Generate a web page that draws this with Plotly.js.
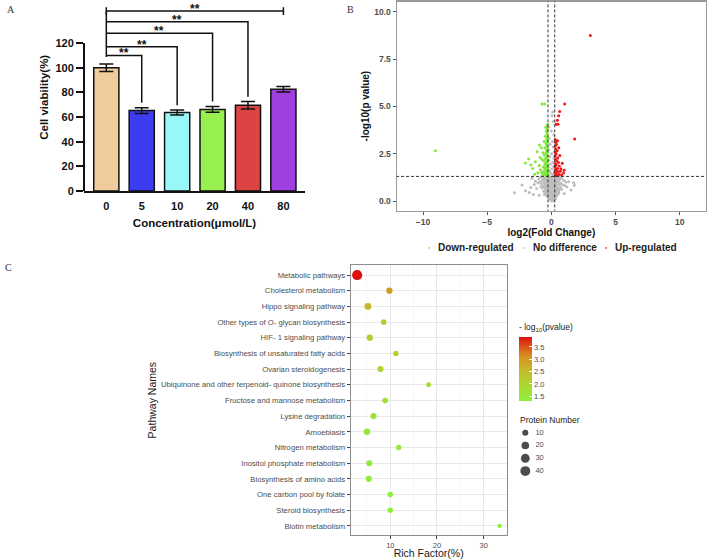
<!DOCTYPE html>
<html>
<head>
<meta charset="utf-8">
<script src="https://cdn.plot.ly/plotly-3.0.1.min.js"></script>
<style>
  html, body { margin: 0; padding: 0; background: #fff; }
  #fig { width: 708px; height: 559px; }
</style>
</head>
<body>
<div id="fig"></div>
<script>
// ---------- Panel A: cell viability by concentration ----------
const concLabels = ['0', '5', '10', '20', '40', '80'];
const viability = [100, 65.2, 63.6, 66.2, 69.5, 82.5];
const viabilitySD = [3.0, 2.3, 2.0, 2.3, 3.0, 2.3];
const barColors = ['#f0cc9c', '#3c3cf0', '#98f8f8', '#98f050', '#dc4444', '#a040e0'];

// significance comparisons against the control (index 0)
const sigTargets = [1, 2, 3, 4, 5];
const sigLevels = [110, 117, 128, 137.3, 146];
const sigStyle = ['drop', 'drop', 'drop', 'drop', 'cap'];
const sigMarks = ['**', '**', '**', '**', '**'];

// ---------- Panel B: volcano plot ----------
const fcCut = Math.log2(1.2);
const pCut = -Math.log10(0.05);

const noDiffPts = [
  [0.02,0.01],[0.08,0.03],[-0.05,0.05],[0.12,0.02],[0.15,0.08],[-0.10,0.10],[0.04,0.12],[0.20,0.06],[-0.15,0.15],[0.10,0.16],
  [0.25,0.14],[-0.02,0.18],[0.30,0.11],[-0.20,0.19],[0.06,0.20],
  [-0.25,0.22],[0.18,0.24],[0.35,0.21],[-0.08,0.26],[0.01,0.28],[-0.32,0.30],[0.27,0.31],[0.12,0.33],[-0.18,0.35],[0.42,0.29],
  [-0.40,0.37],[0.05,0.38],[0.22,0.40],[-0.12,0.41],[0.33,0.43],[-0.28,0.44],[0.50,0.36],[-0.48,0.46],[0.09,0.47],[0.16,0.49],
  [-0.04,0.50],[0.38,0.48],[-0.36,0.27],[0.28,0.46],[-0.22,0.48],[0.58,0.42],[-0.55,0.34],
  [-0.60,0.52],[0.45,0.53],[-0.15,0.55],[0.02,0.56],[0.24,0.57],[-0.33,0.58],[0.62,0.60],[-0.07,0.61],[0.13,0.62],[-0.45,0.63],
  [0.35,0.64],[-0.25,0.66],[0.52,0.67],[0.07,0.68],[-0.70,0.69],[-0.10,0.70],[0.19,0.71],[0.70,0.72],[-0.38,0.73],[0.29,0.74],
  [-0.52,0.76],[0.01,0.77],[0.42,0.78],[-0.19,0.79],[0.80,0.62],[-0.82,0.75],[0.56,0.55],[-0.03,0.72],[0.11,0.53],[-0.29,0.51],
  [-0.62,0.81],[0.15,0.82],[-0.04,0.83],[0.36,0.84],[-0.30,0.85],[0.64,0.86],[0.05,0.87],[-0.46,0.88],[0.23,0.89],[-0.14,0.90],
  [0.48,0.91],[-0.78,0.92],[0.10,0.93],[-0.22,0.94],[0.75,0.95],[-0.55,0.96],[0.32,0.97],[-0.08,0.98],[0.58,0.99],[-0.38,1.00],
  [0.02,1.01],[-0.90,1.02],[0.20,1.03],[-0.66,1.04],[0.88,0.85],[0.42,1.02],[-0.18,0.86],[0.09,0.99],
  [-0.27,1.06],[0.38,1.07],[-0.05,1.08],[0.55,1.09],[-0.48,1.10],[0.14,1.11],[-0.72,1.12],[0.27,1.13],[-0.16,1.14],[0.68,1.15],
  [-0.35,1.16],[0.04,1.17],[-0.98,1.18],[0.45,1.19],[-0.58,1.20],[0.20,1.21],[-0.10,1.22],[0.80,1.23],[-0.42,1.24],[0.10,1.25],
  [-0.24,1.26],[0.60,1.27],[-0.80,1.28],[0.33,1.29],[-0.02,1.24],[0.95,1.10],
  [-1.05,0.95],[1.05,0.82],[-1.15,0.66],[1.12,1.00],[-1.24,1.05],[1.21,0.74],[-1.33,0.88],[1.35,1.02],[-1.50,1.20],[1.53,0.58],
  [-1.60,0.72],[1.74,0.97],[1.79,0.83],[-1.72,0.45],[-2.02,0.55],[-2.28,0.85],[-2.88,0.44],[-1.40,0.35],[1.00,0.40],[-0.95,0.30],
  [-0.20,1.35],[0.10,1.40],[-0.05,1.48],[0.22,1.55],[-0.15,1.60],[0.05,1.70],[-0.24,1.78],[0.18,1.85],[-0.08,1.95],[0.12,2.05],
  [-0.20,2.15],[0.20,2.25],[-0.12,2.35],[0.02,2.50],[0.24,2.60],[-0.22,2.70],[0.15,2.85],[-0.10,3.00],[0.08,3.15],[-0.18,3.30],
  [0.20,3.50],[0.00,3.70],[-0.22,3.90],[0.15,4.20],[0.05,4.50],[0.10,4.70],
  [-0.34,0.62],[0.44,0.70],[-0.50,0.90],[0.26,0.93],[-0.12,1.03],[0.52,1.22],[-0.64,1.15],[0.36,1.16],[-0.44,0.55],[0.16,0.74]
];

const downPts = [
  [-0.30,1.32],[-0.42,1.35],[-0.55,1.38],[-0.35,1.42],[-0.68,1.40],[-0.28,1.47],[-0.48,1.50],[-0.60,1.55],[-0.32,1.58],[-0.75,1.52],
  [-0.40,1.63],[-0.52,1.68],[-0.29,1.72],[-0.85,1.65],[-0.45,1.78],[-0.36,1.84],[-0.62,1.80],[-0.30,1.90],[-0.50,1.95],[-0.95,1.88],
  [-0.41,2.02],[-0.33,2.08],[-0.58,2.12],[-0.28,2.18],[-0.46,2.24],[-0.72,2.20],[-0.37,2.30],[-0.30,2.38],[-0.55,2.42],[-0.44,2.50],
  [-0.32,2.58],[-0.65,2.55],[-0.39,2.66],[-0.29,2.74],[-0.50,2.80],[-0.78,2.82],[-0.35,2.90],[-0.93,2.96],[-0.42,3.02],[-0.30,3.10],
  [-0.56,3.15],[-0.36,3.25],[-0.28,3.35],[-0.47,3.42],[-0.33,3.55],[-0.39,3.68],[-0.30,3.78],[-0.44,3.88],[-0.35,3.96],[-0.28,4.05],
  [-0.52,5.12],[-0.72,5.12],
  [-1.11,2.61],[-1.77,2.22],[-2.02,2.01],[-1.25,2.08],[-1.45,1.72],[-1.05,1.50],[-1.30,1.42],[-9.03,2.65],[-0.88,2.30],[-1.60,1.90]
];

const upPts = [
  [0.30,1.33],[0.45,1.36],[0.60,1.40],[0.35,1.45],[0.80,1.38],[0.28,1.50],[0.52,1.55],[0.40,1.60],[0.70,1.58],[0.32,1.66],
  [0.95,1.48],[0.48,1.72],[0.29,1.80],[0.62,1.85],[0.38,1.90],[0.30,1.98],[0.55,2.04],[0.42,2.12],[0.85,2.00],[0.33,2.20],
  [0.50,2.28],[0.29,2.36],[0.66,2.40],[0.37,2.48],[0.31,2.56],[0.45,2.65],[0.34,2.75],[0.58,2.82],[0.29,2.90],[0.40,3.00],
  [0.33,3.10],[0.48,3.18],[0.30,3.25],[0.37,4.06],[0.52,4.06],[0.47,4.27],[0.57,4.51],[0.65,4.73],[1.04,5.12],[1.82,3.28],
  [3.04,8.75],[0.75,1.70],[1.00,1.62]
];

// ---------- Panel C: KEGG pathway enrichment ----------
const pathways = [
  'Metabolic pathways',
  'Cholesterol metabolism',
  'Hippo signaling pathway',
  'Other types of O- glycan biosynthesis',
  'HIF- 1 signaling pathway',
  'Biosynthesis of unsaturated fatty acids',
  'Ovarian steroidogenesis',
  'Ubiquinone and other terpenoid- quinone biosynthesis',
  'Fructose and mannose metabolism',
  'Lysine degradation',
  'Amoebiasis',
  'Nitrogen metabolism',
  'Inositol phosphate metabolism',
  'Biosynthesis of amino acids',
  'One carbon pool by folate',
  'Steroid biosynthesis',
  'Biotin metabolism'
];
const richFactor = [2.9, 9.8, 5.2, 8.6, 5.6, 11.2, 7.9, 18.2, 8.9, 6.4, 5.0, 11.8, 5.5, 5.4, 10.0, 10.0, 33.4];
const negLogP = [3.91, 3.0, 2.6, 2.25, 2.18, 2.05, 2.0, 1.9, 1.75, 1.65, 1.55, 1.5, 1.45, 1.42, 1.38, 1.35, 1.31];
const proteinNum = [43, 11, 15, 8, 11, 7, 10, 5, 8, 10, 12, 7, 10, 11, 7, 7, 3];
const sizeKeys = [10, 20, 30, 40];

// point diameter (px) from protein count, area-style scaling
const dotSize = n => 2.2 + 1.22 * Math.sqrt(n);

const FONT = 'Liberation Sans, Arial, Helvetica, sans-serif';
const SERIF = 'Liberation Serif, Times New Roman, serif';

// ---------- traces ----------
const traces = [];

traces.push({
  type: 'bar', x: concLabels.map((_, i) => i), y: viability,
  width: 0.71, xaxis: 'x', yaxis: 'y',
  marker: { color: barColors, line: { color: '#111', width: 1.5 } },
  error_y: { type: 'data', array: viabilitySD, visible: true, color: '#111', thickness: 1.5, width: 7 },
  showlegend: false, hoverinfo: 'skip'
});

// bracket lines for the significance marks
const bx = [], by = [];
const top0 = viability[0] + viabilitySD[0] + 5.7;
bx.push(0, 0, null); by.push(top0, Math.max(...sigLevels), null);
sigTargets.forEach((t, k) => {
  const lvl = sigLevels[k];
  if (sigStyle[k] === 'drop') {
    const end = viability[t] + viabilitySD[t] + 4;
    bx.push(0, t, t, null); by.push(lvl, lvl, end, null);
  } else {
    bx.push(0, t, null); by.push(lvl, lvl, null);
    bx.push(0, 0, null); by.push(lvl - 3.3, lvl + 3, null);
    bx.push(t, t, null); by.push(lvl - 3.3, lvl + 3, null);
  }
});
traces.push({
  type: 'scatter', mode: 'lines', x: bx, y: by, xaxis: 'x', yaxis: 'y',
  line: { color: '#111', width: 1.5 }, connectgaps: false,
  showlegend: false, hoverinfo: 'skip'
});

// volcano groups
const volcano = [
  { pts: noDiffPts, color: '#bdbdbd' },
  { pts: downPts, color: '#7fe83a' },
  { pts: upPts, color: '#f01818' }
];
volcano.forEach(g => {
  traces.push({
    type: 'scatter', mode: 'markers', xaxis: 'x2', yaxis: 'y2',
    x: g.pts.map(p => p[0]), y: g.pts.map(p => p[1]),
    marker: { color: g.color, size: 3, line: { width: 0 } },
    showlegend: false, hoverinfo: 'skip'
  });
});

// enrichment bubbles
traces.push({
  type: 'scatter', mode: 'markers', xaxis: 'x3', yaxis: 'y3',
  x: richFactor, y: pathways,
  marker: {
    size: proteinNum.map(dotSize), sizemode: 'diameter',
    color: negLogP,
    colorscale: [[0, '#8ef03c'], [0.25, '#acd632'], [0.5, '#c6b82a'], [0.68, '#d49622'], [0.84, '#da5a18'], [1, '#e00d0d']],
    line: { width: 0 }, opacity: 1,
    showscale: true,
    colorbar: {
      x: 519 / 708, xanchor: 'left', xpad: 0,
      y: 1 - 361 / 559, yanchor: 'middle', ypad: 0,
      len: 80, lenmode: 'pixels', thickness: 13, thicknessmode: 'pixels',
      outlinewidth: 0,
      tickvals: [1.5, 2, 2.5, 3, 3.5], tickformat: '.1f',
      ticks: 'inside', ticklen: 3, tickcolor: '#ffffff', tickwidth: 1,
      tickfont: { family: FONT, size: 7.5, color: '#4d4d4d' },
      title: { text: '- log<sub>10</sub>(pvalue)', side: 'top', font: { family: FONT, size: 8.5, color: '#222' } }
    }
  },
  showlegend: false, hoverinfo: 'skip'
});

// size key for protein number
traces.push({
  type: 'scatter', mode: 'markers', xaxis: 'x4', yaxis: 'y4',
  x: sizeKeys.map(() => 0.5), y: sizeKeys.map((_, i) => i),
  marker: { color: '#000', size: sizeKeys.map(dotSize), sizemode: 'diameter', line: { width: 0 } },
  cliponaxis: false, showlegend: false, hoverinfo: 'skip'
});
traces.push({
  type: 'scatter', mode: 'text', xaxis: 'x4', yaxis: 'y4',
  x: sizeKeys.map(() => 1.3), y: sizeKeys.map((_, i) => i),
  text: sizeKeys.map(String), textposition: 'middle right',
  textfont: { family: FONT, size: 7.5, color: '#4d4d4d' },
  cliponaxis: false, showlegend: false, hoverinfo: 'skip'
});

// ---------- layout ----------
const annotations = [
  { text: 'A', x: 5 / 708, y: 1 - 2 / 559, xanchor: 'left', yanchor: 'top', xref: 'paper', yref: 'paper', showarrow: false, font: { family: SERIF, size: 10, color: '#333' } },
  { text: 'B', x: 345 / 708, y: 1 - 2 / 559, xanchor: 'left', yanchor: 'top', xref: 'paper', yref: 'paper', showarrow: false, font: { family: SERIF, size: 10, color: '#333' } },
  { text: 'C', x: 3 / 708, y: 1 - 260 / 559, xanchor: 'left', yanchor: 'top', xref: 'paper', yref: 'paper', showarrow: false, font: { family: SERIF, size: 10, color: '#333' } },
  { text: 'Protein Number', x: 518 / 708, y: 1 - 419.5 / 559, xanchor: 'left', yanchor: 'middle', xref: 'paper', yref: 'paper', showarrow: false, font: { family: FONT, size: 8.5, color: '#222' } }
];
sigTargets.forEach((t, k) => {
  annotations.push({
    text: '<b>' + sigMarks[k] + '</b>', x: t / 2, y: sigLevels[k], xref: 'x', yref: 'y',
    xanchor: 'center', yanchor: 'bottom', yshift: -7, showarrow: false,
    font: { family: FONT, size: 12, color: '#111' }
  });
});

// volcano legend row
const legendItems = [
  { label: 'Down-regulated', color: '#7fe83a', dot: 429, txt: 436 },
  { label: 'No difference', color: '#bdbdbd', dot: 524, txt: 531 },
  { label: 'Up-regulated', color: '#f01818', dot: 606.5, txt: 613 }
];
legendItems.forEach(it => {
  annotations.push({ text: '●', x: it.dot / 708, y: 1 - 247.5 / 559, xref: 'paper', yref: 'paper', xanchor: 'center', yanchor: 'middle', showarrow: false, font: { family: FONT, size: 4, color: it.color } });
  annotations.push({ text: '<b>' + it.label + '</b>', x: it.txt / 708, y: 1 - 247.5 / 559, xref: 'paper', yref: 'paper', xanchor: 'left', yanchor: 'middle', showarrow: false, font: { family: FONT, size: 10, color: '#222' } });
});

const yMaxA = 152;
const shapes = [
  // y axis line of panel A stops at 120
  { type: 'line', xref: 'x domain', yref: 'y domain', x0: 0, x1: 0, y0: 0, y1: 120 / yMaxA, line: { color: '#111', width: 2 } },
  // volcano thresholds
  { type: 'line', xref: 'x2', yref: 'y2', x0: -fcCut, x1: -fcCut, y0: -0.6, y1: 10.6, line: { color: '#333', width: 1, dash: '3px,2px' } },
  { type: 'line', xref: 'x2', yref: 'y2', x0: fcCut, x1: fcCut, y0: -0.6, y1: 10.6, line: { color: '#333', width: 1, dash: '3px,2px' } },
  { type: 'line', xref: 'x2', yref: 'y2', x0: -12.1, x1: 12.1, y0: pCut, y1: pCut, line: { color: '#333', width: 1, dash: '3px,2px' } }
];

const layout = {
  width: 708, height: 559,
  margin: { l: 0, r: 0, t: 0, b: 0 },
  paper_bgcolor: '#fff', plot_bgcolor: '#fff',
  font: { family: FONT, color: '#111' },
  showlegend: false,
  hovermode: false,
  // Panel A
  xaxis: {
    domain: [84 / 708, 305 / 708], range: [-0.63, 5.61], anchor: 'y',
    tickvals: concLabels.map((_, i) => i), ticktext: concLabels,
    showline: true, linecolor: '#111', linewidth: 2,
    ticks: 'outside', ticklen: 4, tickcolor: 'rgba(0,0,0,0)',
    showgrid: false, zeroline: false,
    tickfont: { family: FONT, size: 11, color: '#111', weight: 'bold' },
    title: { text: '<b>Concentration(μmol/L)</b>', standoff: 8, font: { family: FONT, size: 11.5, color: '#111' } }
  },
  yaxis: {
    domain: [1 - 191 / 559, 1 - 3.6 / 559], range: [0, yMaxA], anchor: 'x',
    tickvals: [0, 20, 40, 60, 80, 100, 120],
    showline: false, showgrid: false, zeroline: false,
    ticks: 'outside', ticklen: 7, tickwidth: 2, tickcolor: '#111',
    tickfont: { family: FONT, size: 11, color: '#111', weight: 'bold' },
    title: { text: '<b>Cell viability(%)</b>', standoff: 4, font: { family: FONT, size: 11.5, color: '#111' } }
  },
  // Panel B
  xaxis2: {
    domain: [396.7 / 708, 706 / 708], range: [-12.05, 12.05], anchor: 'y2',
    tickvals: [-10, -5, 0, 5, 10],
    showline: true, mirror: true, linecolor: '#9a9a9a', linewidth: 1.2,
    ticks: 'outside', ticklen: 3, tickcolor: '#555', tickwidth: 1,
    showgrid: false, zeroline: false,
    tickfont: { family: FONT, size: 8.5, color: '#4d4d4d', weight: 'bold' },
    title: { text: '<b>log2(Fold Change)</b>', standoff: 3, font: { family: FONT, size: 10, color: '#111' } }
  },
  yaxis2: {
    domain: [1 - 210.7 / 559, 1 - 1.5 / 559], range: [-0.51, 10.54], anchor: 'x2',
    tickvals: [0, 2.5, 5, 7.5, 10], tickformat: '.1f',
    showline: true, mirror: true, linecolor: '#9a9a9a', linewidth: 1.2,
    ticks: 'outside', ticklen: 3, tickcolor: '#555', tickwidth: 1,
    showgrid: false, zeroline: false,
    tickfont: { family: FONT, size: 8.5, color: '#4d4d4d', weight: 'bold' },
    title: { text: '<b>-log10(p value)</b>', standoff: 2, font: { family: FONT, size: 10, color: '#111' } }
  },
  // Panel C
  xaxis3: {
    domain: [350.7 / 708, 506.7 / 708], range: [1.52, 34.93], anchor: 'y3',
    tickvals: [10, 20, 30],
    showline: true, mirror: true, linecolor: '#8c8c8c', linewidth: 1,
    ticks: 'outside', ticklen: 3, tickcolor: '#444', tickwidth: 1,
    showgrid: true, gridcolor: '#e8e8e8', gridwidth: 1, zeroline: false,
    minor: { dtick: 5, tick0: 0, showgrid: true, gridcolor: '#f3f3f3', gridwidth: 0.6, ticks: '' },
    tickfont: { family: FONT, size: 7.5, color: '#4d4d4d' },
    title: { text: 'Rich Factor(%)', standoff: 4, font: { family: FONT, size: 10.5, color: '#1a1a1a' } }
  },
  yaxis3: {
    domain: [1 - 535 / 559, 1 - 265.3 / 559], anchor: 'x3',
    type: 'category', categoryorder: 'array', categoryarray: pathways,
    range: [16.58, -0.62],
    showline: true, mirror: true, linecolor: '#8c8c8c', linewidth: 1,
    ticks: 'outside', ticklen: 3, tickcolor: '#444', tickwidth: 1,
    showgrid: true, gridcolor: '#e8e8e8', gridwidth: 1, zeroline: false,
    tickfont: { family: FONT, size: 7.7, color: '#4d4d4d' },
    title: { text: 'Pathway Names', standoff: 2, font: { family: FONT, size: 10.5, color: '#1a1a1a' } }
  },
  // size key axes (hidden)
  xaxis4: { domain: [519 / 708, 560 / 708], range: [0, 41 / 12.6], anchor: 'y4', visible: false, fixedrange: true },
  yaxis4: { domain: [1 - 477.5 / 559, 1 - 426.3 / 559], range: [3.5, -0.5], anchor: 'x4', visible: false, fixedrange: true },
  annotations: annotations,
  shapes: shapes
};

Plotly.newPlot('fig', traces, layout, { staticPlot: true, displayModeBar: false });
</script>
</body>
</html>
